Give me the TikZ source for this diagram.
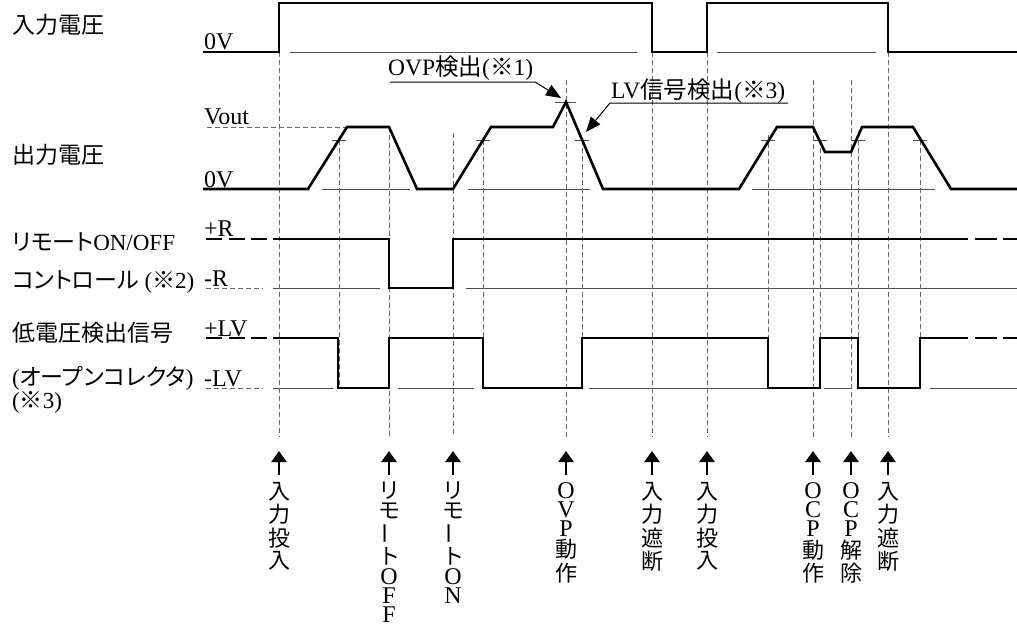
\documentclass[tikz,border=0pt]{standalone}
\usepackage{fontspec}
\setmainfont{Liberation Serif}
\newfontfamily\jp[RawFeature=+palt]{Noto Sans CJK JP}
\newfontfamily\jpv{Noto Sans CJK JP}
\usetikzlibrary{arrows.meta}
\newcommand\J[1]{{\jp #1}}
\newcommand\V[1]{{\jpv\fontsize{22}{0}\selectfont #1}}
\newcommand\VB{\rotatebox[origin=c]{90}{\jpv\fontsize{22}{0}\selectfont ー}}
\begin{document}
\begin{tikzpicture}[x=1pt,y=-1pt,
  wave/.style={line width=2.6pt, line join=miter, line cap=butt},
  thinln/.style={line width=0.9pt, black!70},
  guide/.style={line width=0.8pt, black!60, dash pattern=on 5pt off 3pt},
  lbl/.style={font=\fontsize{23}{26}\selectfont, anchor=west, inner sep=0pt},
  lvl/.style={font=\fontsize{24}{26}\selectfont, anchor=base west, inner sep=0pt},
  ann/.style={font=\fontsize{23.5}{26}\selectfont, anchor=base west, inner sep=0pt},
  evt/.style={font={\fontsize{24}{0}\selectfont\lineskip=3.2pt\lineskiplimit=0pt},
    anchor=north, align=center, inner sep=0pt},
  evarrow/.style={line width=2.4pt, -{Triangle[width=15pt,length=11pt]}},
  annarrow/.style={line width=1pt, -{Triangle[width=12pt,length=15pt]}},
]
\useasboundingbox (0,0) rectangle (1017,626);

% ---- left labels ----
\node[lbl] (l1) at (12,25) {\J{入力電圧}};
\node[lbl] (l2) at (12,155) {\J{出力電圧}};
\node[lbl] (l3) at (12,242) {\J{リモート}ON/OFF};
\node[lbl] (l4) at (12,282) {\J{コントロール} (\J{※}2)};
\node[lbl] (l5) at (12,333) {\J{低電圧検出信号}};
\node[lbl] (l6) at (12,378) {(\J{オープンコレクタ})};
\node[lbl] (l7) at (12,402) {(\J{※}3)};

% ---- level labels ----
\node[lvl] (v1) at (204,50) {0V};
\node[lvl] (v2) at (204,124) {Vout};
\node[lvl] (v3) at (204,187) {0V};
\node[lvl] (v4) at (204,236) {+R};
\node[lvl] (v5) at (204,286) {-R};
\node[lvl] (v6) at (204,336) {+LV};
\node[lvl] (v7) at (204,386) {-LV};

% ---- thin reference lines ----
\draw[thinln] (290,52) -- (637,52);
\draw[thinln] (717,52) -- (876,52);
\draw[guide] (207,127) -- (345,127);
\draw[thinln] (322,189) -- (410,189);
\draw[thinln] (468,189) -- (590,189);
\draw[thinln] (752,189) -- (935,189);
\draw[guide] (206,288) -- (263,288);
\draw[thinln] (273,288) -- (380,288);
\draw[thinln] (466,288) -- (1017,288);
\draw[guide] (206,388) -- (263,388);
\draw[thinln] (273,388) -- (333,388);
\draw[thinln] (398,388) -- (474,388);
\draw[thinln] (589,388) -- (767,388);
\draw[thinln] (824,388) -- (852,388);
\draw[thinln] (930,388) -- (1017,388);

% ---- threshold ticks ----
\foreach \tx in {339,483,582,768,820,858,920}
  \draw[thinln] (\tx-7,140) -- (\tx+7,140);
\draw[thinln] (555,102) -- (576,102);

% ---- vertical guide lines ----
\foreach \gx/\ga/\gb in {279/52/437, 339/140/388, 389/127/437, 453/133/437,
  483/140/388, 566/80/437, 582/140/388, 652/52/437, 707/52/437, 768/135/388,
  813/80/437, 820/140/388, 851/80/437, 858/140/388, 888/52/437, 920/140/388}
  \draw[guide] (\gx,\ga) -- (\gx,\gb);

% ---- waveforms ----
\draw[wave] (203,52) -- (279,52) -- (279,3) -- (652,3) -- (652,52) -- (707,52)
  -- (707,3) -- (888,3) -- (888,52) -- (1017,52);
\draw[wave] (203,189) -- (308,189) -- (347,127) -- (389,127) -- (417,189)
  -- (453,189) -- (491,127) -- (553,127) -- (566,102) -- (603,189) -- (739,189)
  -- (777,127) -- (813,127) -- (825,152) -- (851,152) -- (862,127) -- (913,127)
  -- (951,189) -- (1017,189);
\foreach \yy in {239,338}{
  \draw[wave] (206,\yy) -- (222,\yy);
  \draw[wave] (229,\yy) -- (245,\yy);
  \draw[wave] (251,\yy) -- (267,\yy);
  \draw[wave] (975,\yy) -- (997,\yy);
  \draw[wave] (1003,\yy) -- (1017,\yy);
}
\draw[wave] (273,239) -- (389,239) -- (389,288) -- (453,288) -- (453,239) -- (968,239);
\draw[wave] (273,338) -- (338,338) -- (338,388) -- (389,388) -- (389,338)
  -- (483,338) -- (483,388) -- (582,388) -- (582,338) -- (768,338) -- (768,388)
  -- (820,388) -- (820,338) -- (858,338) -- (858,388) -- (920,388) -- (920,338)
  -- (968,338);

% ---- annotations ----
\node[ann] (ovp) at (388,76) {OVP\J{検出}(\J{※}1)};
\coordinate (ovpa) at (390,82);
\coordinate (ovpb) at (535,82);
\coordinate (ovpt) at (561,98);
\draw[annarrow] (ovpa) -- (ovpb) -- (ovpt);
\node[ann] (lvd) at (611,99) {LV\J{信号検出}(\J{※}3)};
\coordinate (lva) at (788,103);
\coordinate (lvb) at (610,103);
\coordinate (lvt) at (586,132);
\draw[annarrow] (lva) -- (lvb) -- (lvt);

% ---- event arrows and vertical labels ----
\foreach \ex in {279,389,453,566,652,707,813,851,888}
  \draw[evarrow] (\ex,475) -- (\ex,451);
\node[evt] (e1) at (279,482) {\V{入}\\\V{力}\\\V{投}\\\V{入}};
\node[evt] (e2) at (389,482) {\V{リ}\\\V{モ}\\\VB\\\V{ト}\\O\\F\\F};
\node[evt] (e3) at (453,482) {\V{リ}\\\V{モ}\\\VB\\\V{ト}\\O\\N};
\node[evt] (e4) at (566,482) {O\\V\\P\\\V{動}\\\V{作}};
\node[evt] (e5) at (652,482) {\V{入}\\\V{力}\\\V{遮}\\\V{断}};
\node[evt] (e6) at (707,482) {\V{入}\\\V{力}\\\V{投}\\\V{入}};
\node[evt] (e7) at (813,482) {O\\C\\P\\\V{動}\\\V{作}};
\node[evt] (e8) at (851,482) {O\\C\\P\\\V{解}\\\V{除}};
\node[evt] (e9) at (888,482) {\V{入}\\\V{力}\\\V{遮}\\\V{断}};
\end{tikzpicture}
\end{document}
